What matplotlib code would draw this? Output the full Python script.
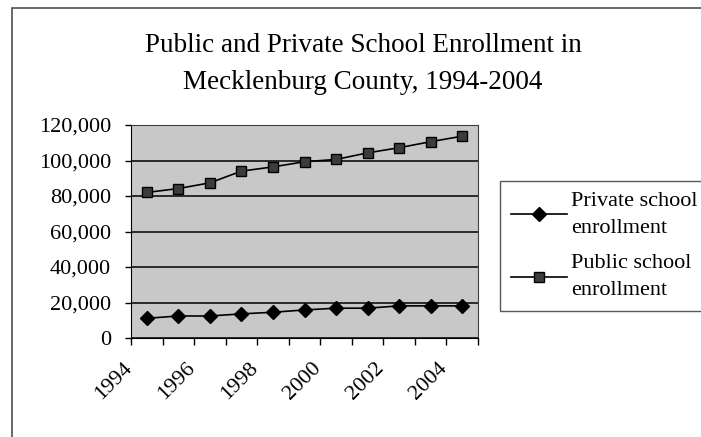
import numpy as np
import matplotlib
matplotlib.use('Agg')
import matplotlib.pyplot as plt
import matplotlib.transforms as mtransforms
from matplotlib.patches import Rectangle
from matplotlib.ticker import FuncFormatter

years = [1994, 1995, 1996, 1997, 1998, 1999, 2000, 2001, 2002, 2003, 2004]
private_enroll = [11100, 12400, 12400, 13600, 14500, 15800, 16800, 16800, 18100, 18100, 18100]
public_enroll = [82000, 84200, 87400, 94000, 96400, 99300, 100600, 104300, 107200, 110600, 113700]
year_labels = ['1994', '1996', '1998', '2000', '2002', '2004']

plt.rcParams['font.family'] = ['Liberation Serif', 'DejaVu Serif']

fig = plt.figure(figsize=(7.01, 4.37), dpi=100)
ax = fig.add_axes([131 / 701, 1 - 338 / 437, 347 / 701, 213 / 437])

# chart area frame (runs off the picture on the right and bottom)
fig.patches.append(Rectangle((12 / 701, -0.1), 1.2, 1 - 8 / 437 + 0.1,
                             transform=fig.transFigure, fill=False,
                             edgecolor='#505050', linewidth=1.2))

ax.set_facecolor('#c8c8c8')
x = np.arange(len(years))

ax.plot(x, private_enroll, color='black', linewidth=1.2, marker='D',
        markersize=7.5, markerfacecolor='black', markeredgecolor='black',
        label='Private school\nenrollment', zorder=3)
ax.plot(x, public_enroll, color='black', linewidth=1.2, marker='s',
        markersize=6.5, markerfacecolor='#3c3c3c', markeredgecolor='black',
        label='Public school\nenrollment', zorder=3)

ax.set_xlim(-0.5, len(years) - 0.5)
ax.set_ylim(0, 120000)
ax.set_yticks(np.arange(0, 120001, 20000))
ax.yaxis.set_major_formatter(FuncFormatter(lambda v, p: '{:,}'.format(int(v))))
ax.grid(axis='y', color='#1e1e1e', linewidth=1.3)
ax.set_axisbelow(True)

# tick marks between categories, labels on every other category
ax.set_xticks(np.arange(-0.5, len(years), 1))
ax.set_xticklabels([])
ax.set_xticks(x[::2], minor=True)
ax.set_xticklabels(year_labels, minor=True, rotation=45, ha='right', va='top')
ax.tick_params(axis='x', which='major', direction='out', length=5, width=1)
ax.tick_params(axis='x', which='minor', length=0, pad=15, labelsize=16)
ax.tick_params(axis='y', direction='out', length=4.5, width=1, pad=10, labelsize=16)
shift = mtransforms.ScaledTranslation(-11 / 100, 0, fig.dpi_scale_trans)
for lab in ax.get_xticklabels(minor=True):
    lab.set_transform(lab.get_transform() + shift)

for s in ['top', 'right']:
    ax.spines[s].set_color('#404040')
for s in ['left', 'bottom']:
    ax.spines[s].set_color('black')

fig.text(0.518, 1 - 64 / 437,
         'Public and Private School Enrollment in\nMecklenburg County, 1994-2004',
         ha='center', va='center', fontsize=19.5, linespacing=1.6)

leg = fig.legend(loc='upper left', bbox_to_anchor=(500 / 701, 1 - 181 / 437),
                 fontsize=16, handlelength=2.5, handletextpad=0.2,
                 labelspacing=0.75, borderpad=0.5, borderaxespad=0,
                 frameon=True, fancybox=False)
for t in leg.get_texts():
    t.set_linespacing(1.55)
leg.get_frame().set_edgecolor('#303030')
leg.get_frame().set_linewidth(1.0)

fig.savefig('out.png', dpi=100)
